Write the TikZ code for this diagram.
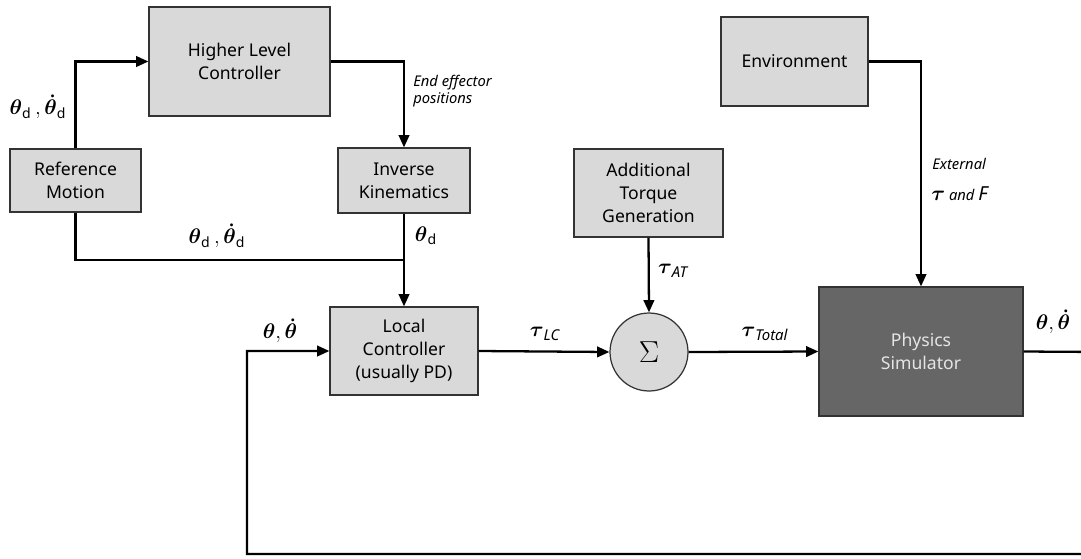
\documentclass[tikz,border=0pt]{standalone}
\usepackage{amsmath,amssymb}
\usepackage{fontspec}
\setmainfont{Noto Sans}
\usetikzlibrary{arrows.meta,calc}
\begin{document}
\begin{tikzpicture}[x=0.02cm,y=-0.02cm,
  blk/.style={draw=black!80, fill=black!15, line width=0.7pt, align=center,
    font=\fontsize{10}{13}\selectfont, inner sep=0pt},
  dark/.style={blk, fill=black!60, text=black!10},
  sumnode/.style={circle, draw=black!80, fill=black!15, line width=0.7pt, inner sep=0pt,
    minimum size=1.56cm, font=\fontsize{19}{19}\selectfont},
  conn/.style={line width=1.3pt, -{Triangle[length=7pt,width=6pt]}},
  wire/.style={line width=1.3pt},
  lab/.style={font=\fontsize{12}{14}\selectfont, inner sep=1pt},
  sm/.style={font=\fontsize{8.4}{9.8}\selectfont\itshape, align=left, inner sep=0pt}]
\useasboundingbox (0,0) rectangle (1081,558);

% blocks
\node[blk, minimum width=3.62cm, minimum height=2.18cm] (hlc) at (239.5,61.5) {Higher Level\\Controller};
\node[blk, minimum width=2.62cm, minimum height=1.26cm] (ref) at (75.5,180.5) {Reference\\Motion};
\node[blk, minimum width=2.64cm, minimum height=1.30cm] (ik) at (404,180.5) {Inverse\\Kinematics};
\node[blk, minimum width=2.98cm, minimum height=1.76cm] (atg) at (648.5,193) {Additional\\Torque\\Generation};
\node[blk, minimum width=2.94cm, minimum height=1.78cm] (env) at (794.5,61.5) {Environment};
\node[dark, minimum width=4.08cm, minimum height=2.58cm] (sim) at (921,351.5) {Physics\\Simulator};
\node[blk, minimum width=2.96cm, minimum height=1.76cm] (lc) at (404,351) {Local\\Controller\\(usually PD)};
\node[sumnode] (sum) at (649,352) {$\Sigma$};

% helper coordinates
\coordinate (jn) at (404,260);
\coordinate (fr) at (1100,352);
\coordinate (fb) at (247,554);

% connectors
\draw[conn] (ref.north) |- (hlc.west);
\draw[conn] (hlc.east) -| (ik.north);
\draw[wire] (ref.south) |- (jn);
\draw[conn] (ik.south) -- (lc.north);
\draw[conn] (lc.east) -- (sum.west);
\draw[conn] (atg.south) -- (sum.north);
\draw[conn] (sum.east) -- (sim.west);
\draw[conn] (env.east) -| (sim.north);
\draw[conn] (sim.east) -- (fr) |- (fb) |- (lc.west);

% labels
\node[lab] (l1) at (38,107) {$\boldsymbol{\theta}_{\text{d}}\,,\boldsymbol{\dot\theta}_{\text{d}}$};
\node[lab] (l2) at (217,236) {$\boldsymbol{\theta}_{\text{d}}\,,\boldsymbol{\dot\theta}_{\text{d}}$};
\node[lab] (l3) at (426,236) {$\boldsymbol{\theta}_{\text{d}}$};
\node[lab] (l4) at (280,331) {$\boldsymbol{\theta},\boldsymbol{\dot\theta}$};
\node[lab] (l5) at (1053,322) {$\boldsymbol{\theta},\boldsymbol{\dot\theta}$};
\node[lab] (l6) at (545,334) {$\boldsymbol{\tau}_{\textit{\fontsize{8.5}{8.5}\selectfont LC}}$};
\node[lab] (l7) at (673,271) {$\boldsymbol{\tau}_{\textit{\fontsize{8.5}{8.5}\selectfont AT}}$};
\node[lab] (l8) at (765,334) {$\boldsymbol{\tau}_{\textit{\fontsize{8.5}{8.5}\selectfont Total}}$};
\node[sm, anchor=west] (l9) at (413,91) {End effector\\positions};
\node[sm, anchor=west] (l10) at (932,164) {External};
\node[sm, anchor=west] (l11) at (931,194) {{\fontsize{13}{13}\selectfont$\boldsymbol{\tau}$} and \textbf{\textit{\fontsize{11}{11}\selectfont F}}};
\end{tikzpicture}
\end{document}
